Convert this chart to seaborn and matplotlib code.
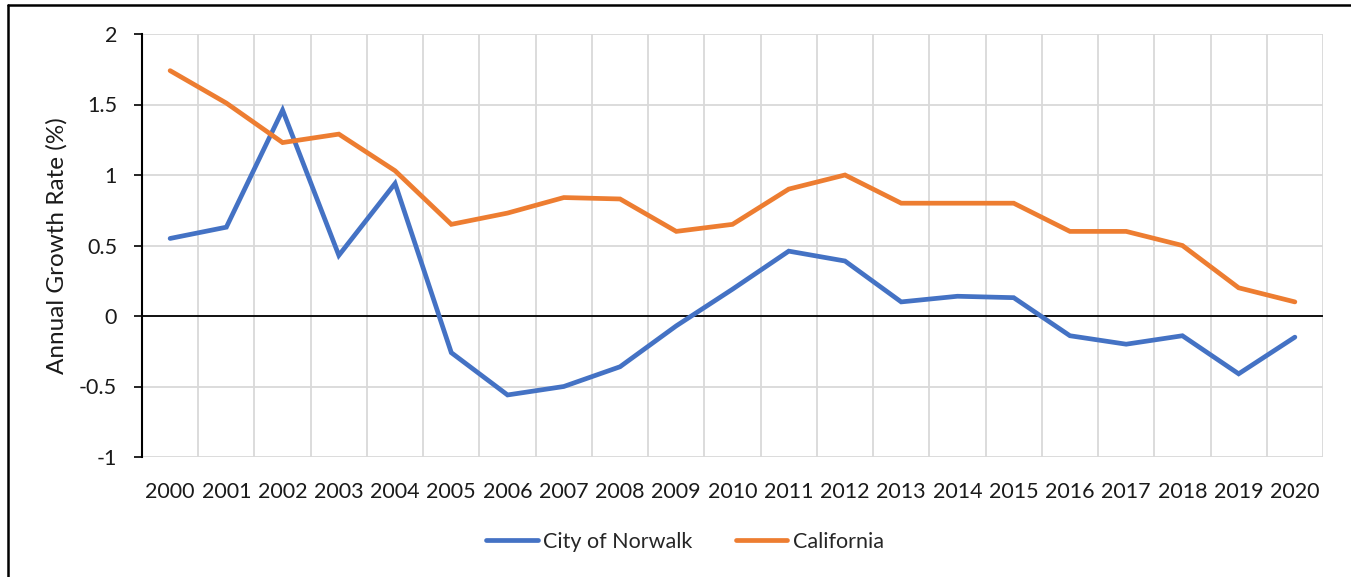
import numpy as np
import pandas as pd
import seaborn as sns
import matplotlib
matplotlib.use("Agg")
import matplotlib.pyplot as plt
from matplotlib.lines import Line2D
from matplotlib.ticker import FixedLocator

years = list(range(2000, 2021))
norwalk = [0.55, 0.63, 1.46, 0.43, 0.94, -0.26, -0.56, -0.50, -0.36, -0.07, 0.19,
           0.46, 0.39, 0.10, 0.14, 0.13, -0.14, -0.20, -0.14, -0.41, -0.15]
california = [1.74, 1.51, 1.23, 1.29, 1.03, 0.65, 0.73, 0.84, 0.83, 0.60, 0.65,
              0.90, 1.00, 0.80, 0.80, 0.80, 0.60, 0.60, 0.50, 0.20, 0.10]
series_names = ["City of Norwalk", "California"]
y_ticks = [-1, -0.5, 0, 0.5, 1, 1.5, 2]
y_tick_labels = ["-1", "-0.5", "0", "0.5", "1", "1.5", "2"]
y_label = "Annual Growth Rate (%)"

df = pd.DataFrame({
    "Year": years * 2,
    "Value": norwalk + california,
    "Series": [series_names[0]] * len(years) + [series_names[1]] * len(years),
})

sns.set_theme(style="white")
plt.rcParams['font.family'] = ['Lato', 'DejaVu Sans']
FS = 15.5

fig = plt.figure(figsize=(13.51, 5.77), dpi=100)
ax = fig.add_axes([142/1351, 1-457/577, (1323-142)/1351, (457-34)/577])

palette = {series_names[0]: "#4472C4", series_names[1]: "#ED7D31"}
sns.lineplot(data=df, x="Year", y="Value", hue="Series", palette=palette,
             linewidth=3.4, ax=ax, legend=False,
             solid_capstyle="round", solid_joinstyle="miter")

ax.set_xlim(years[0] - 0.5, years[-1] + 0.5)
ax.set_ylim(-1, 2)
ax.set_xticks(years)
ax.set_xticklabels([str(y) for y in years], fontsize=FS, color="#1a1a1a")
ax.xaxis.set_minor_locator(FixedLocator([y + 0.5 for y in [years[0] - 1] + years]))
ax.set_yticks(y_ticks)
ax.set_yticklabels(y_tick_labels, fontsize=FS, color="#1a1a1a")
ax.tick_params(axis="x", which="both", length=0, pad=18)
ax.tick_params(axis="y", which="major", length=6, width=1.2, color="black",
               direction="out", left=True, pad=12)
ax.grid(True, axis="y", which="major", color="#D9D9D9", linewidth=1.3)
ax.grid(True, axis="x", which="minor", color="#D9D9D9", linewidth=1.3)
ax.grid(False, axis="x", which="major")
ax.set_axisbelow(True)
ax.axhline(0, color="black", linewidth=1.3, zorder=1.5)

for s in ["top", "right", "bottom"]:
    ax.spines[s].set_visible(False)
ax.spines["left"].set_color("black")
ax.spines["left"].set_linewidth(1.5)

ax.set_xlabel("")
ax.set_ylabel(y_label, fontsize=17.5, color="#1a1a1a", labelpad=8)

handles = [Line2D([0], [0], color=palette[n], linewidth=3.4, solid_capstyle="round")
           for n in series_names]
fig.legend(handles, series_names, loc="center", bbox_to_anchor=(685/1351, 1-542/577),
           ncol=2, frameon=False, fontsize=FS, handlelength=2.4,
           columnspacing=2.0, handletextpad=0.25)

# outer frame lines (top and left)
fig.add_artist(Line2D([8/1351, 1], [1-4.5/577, 1-4.5/577], color="black",
                      linewidth=1.8, transform=fig.transFigure))
fig.add_artist(Line2D([8/1351, 8/1351], [0, 1-4.5/577], color="black",
                      linewidth=1.8, transform=fig.transFigure))

fig.savefig("out.png", dpi=100)
